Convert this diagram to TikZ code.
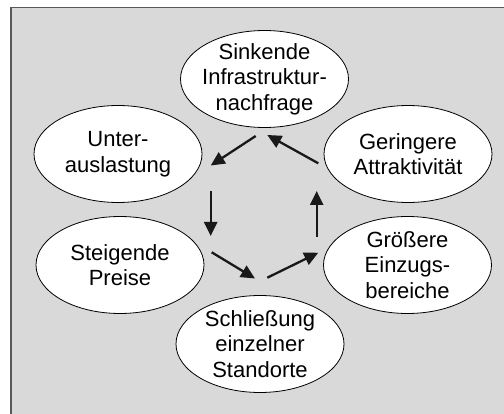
\documentclass[tikz,border=0pt]{standalone}
\usepackage{fontspec}
\setmainfont{Liberation Sans}
\usepackage{xcolor}
\definecolor{bggray}{gray}{0.85}
\definecolor{framegray}{gray}{0.35}
\usepackage{tikz}
\usetikzlibrary{arrows.meta, shapes.geometric}

\tikzset{
	kreis/.style={ellipse, draw=black, line width=0.8pt, fill=white, minimum width=168pt, minimum height=97pt, inner sep=0pt},
	kreistext/.style={align=center, inner sep=0pt, font=\fontsize{22}{25.5}\selectfont},
	pfeil/.style={-{Triangle[length=14pt, width=13pt]}, line width=2.3pt, black!90},
}

\begin{document}
\begin{tikzpicture}[x=1pt, y=-1pt]

% picture is set in pixel units, y pointing down
\clip (0,0) rectangle (504,414);
\draw[fill=bggray, draw=framegray, line width=1.5pt] (11,7.5) rectangle (530,440); % frame, cut at right and bottom

% the six stations of the cycle
\node[kreis, label={[kreistext]center:Sinkende\\Infrastruktur-\\nachfrage}] (sinkend) at (264.5, 79) {};
\node[kreis, label={[kreistext]center:Unter-\\auslastung}]                   (unter)   at (118, 154) {};
\node[kreis, label={[kreistext]center:Steigende\\Preise}]                    (preise)  at (120, 265) {};
\node[kreis, label={[kreistext]center:Schließung\\einzelner\\Standorte}]     (schluss) at (260, 344) {};
\node[kreis, label={[kreistext]center:Größere\\Einzugs-\\bereiche}]          (einzug)  at (407.5, 265) {};
\node[kreis, label={[kreistext]center:Geringere\\Attraktivität}]             (attrakt) at (408, 154) {};

% arrow ends (start s, end e)
\coordinate (s1) at (255.7, 136);   \coordinate (e1) at (210.7, 165.5);
\coordinate (s2) at (210.7, 191);   \coordinate (e2) at (210.7, 236);
\coordinate (s3) at (211.7, 252.3); \coordinate (e3) at (255, 278.5);
\coordinate (s4) at (267.3, 277.7); \coordinate (e4) at (318.3, 252.7);
\coordinate (s5) at (316.7, 236.7); \coordinate (e5) at (316.7, 191);
\coordinate (s6) at (318.3, 163.3); \coordinate (e6) at (267.3, 135);

\foreach \i in {1, 2, 3, 4, 5, 6} {
	\draw[pfeil] (s\i) -- (e\i);
}

\end{tikzpicture}
\end{document}
